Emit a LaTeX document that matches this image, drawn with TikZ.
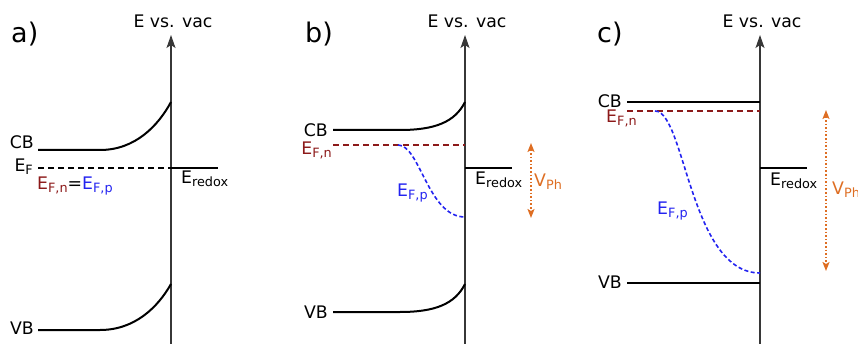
\documentclass[tikz,border=0pt]{standalone}
\usepackage{fontspec}
\setmainfont{DejaVu Sans}
\usepackage{xcolor}
\usepackage{tikz}
\usetikzlibrary{arrows.meta}
\definecolor{fermin}{RGB}{140,25,25}
\definecolor{fermip}{RGB}{35,35,240}
\definecolor{photov}{RGB}{222,110,35}
\definecolor{axisgray}{RGB}{55,55,55}
\newcommand{\lo}[1]{\raisebox{-2.8pt}{\fontsize{12.8}{13}\selectfont #1}}

\tikzset{
  band/.style={line width=2pt,black},
  eaxis/.style={line width=1.2pt,axisgray,-{Stealth[length=13pt,width=9pt,inset=3pt]}},
  fermi/.style={line width=1.6pt,dash pattern=on 6pt off 4pt},
  quasi/.style={line width=1.6pt,fermip,dash pattern=on 4pt off 2.5pt},
  vph/.style={line width=1.6pt,photov,dotted,
    {Stealth[length=9pt,width=7pt,inset=2pt]}-{Stealth[length=9pt,width=7pt,inset=2pt]}},
  lbl/.style={inner sep=0pt,font=\fontsize{17.3}{20}\selectfont},
  panel/.style={inner sep=0pt,font=\fontsize{27}{30}\selectfont}
}

\begin{document}
\begin{tikzpicture}[x=1pt,y=-1pt]
  \useasboundingbox (0,0) rectangle (858,344);
  % axes and panel letters
  \foreach \ax/\lt/\lx in {171/a/11,465/b/305,760/c/597}{
    \coordinate (bot\lt) at (\ax,344);
    \coordinate (top\lt) at (\ax,35);
    \draw[eaxis] (bot\lt) -- (top\lt);
    \node[lbl,anchor=base] (vac\lt) at (\ax+2,28) {E vs. vac};
    \node[panel,anchor=base west] (tag\lt) at (\lx,43) {\lt)};
  }

  % a) equilibrium
  \draw[band] (38,150) -- (100,150) .. controls (135,150) and (158,126) .. (171,102);
  \draw[band] (38,330) -- (100,330) .. controls (135,330) and (158,307) .. (171,284);
  \draw[fermi,black] (38,168) -- (171,168);
  \draw[band] (171,168) -- (218,168);
  \node[lbl,anchor=base east] (cba) at (34,149) {CB};
  \node[lbl,anchor=base east] (vba) at (34,334) {VB};
  \node[lbl,anchor=base east] (efa) at (33,172) {E\lo{F}};
  \node[lbl,anchor=base west] (eqa) at (37,190)
       {\textcolor{fermin}{E\lo{F,n}}=\textcolor{fermip}{E\lo{F,p}}};
  \node[lbl,anchor=base west] (rda) at (181,184) {E\lo{redox}};

  % b) small photovoltage
  \draw[band] (333,130) -- (400,130) .. controls (435,130) and (455,122) .. (465,102);
  \draw[band] (333,312) -- (400,312) .. controls (435,312) and (455,304) .. (465,284);
  \draw[fermi,fermin] (333,145) -- (465,145);
  \draw[quasi] (398,145) .. controls (420,145) and (428,217) .. (465,217);
  \draw[band] (465,168) -- (512,168);
  \coordinate (vtopb) at (531,143);
  \coordinate (vbotb) at (531,218);
  \draw[vph] (vtopb) -- (vbotb);
  \node[lbl,anchor=east] (cbb) at (328,130) {CB};
  \node[lbl,anchor=east] (vbb) at (328,312) {VB};
  \node[lbl,anchor=base east,text=fermin] (fnb) at (332,155) {E\lo{F,n}};
  \node[lbl,anchor=base west,text=fermip] (fpb) at (397,197) {E\lo{F,p}};
  \node[lbl,anchor=base west] (rdb) at (475,185) {E\lo{redox}};
  \node[lbl,anchor=base west,text=photov] (vpb) at (534,187) {V\lo{Ph}};

  % c) large photovoltage, flat bands
  \draw[band] (627,102) -- (760,102);
  \draw[band] (627,283) -- (760,283);
  \draw[fermi,fermin] (627,111) -- (760,111);
  \draw[quasi] (655,111) .. controls (685,111) and (690,273) .. (760,273);
  \draw[band] (760,168) -- (807,168);
  \coordinate (vtopc) at (826,110);
  \coordinate (vbotc) at (826,271);
  \draw[vph] (vtopc) -- (vbotc);
  \node[lbl,anchor=east] (cbc) at (622,101) {CB};
  \node[lbl,anchor=east] (vbc) at (622,282) {VB};
  \node[lbl,anchor=base west,text=fermin] (fnc) at (606,123) {E\lo{F,n}};
  \node[lbl,anchor=base west,text=fermip] (fpc) at (657,215) {E\lo{F,p}};
  \node[lbl,anchor=base west] (rdc) at (770,186) {E\lo{redox}};
  \node[lbl,anchor=base west,text=photov] (vpc) at (832,195) {V\lo{Ph}};
\end{tikzpicture}
\end{document}
